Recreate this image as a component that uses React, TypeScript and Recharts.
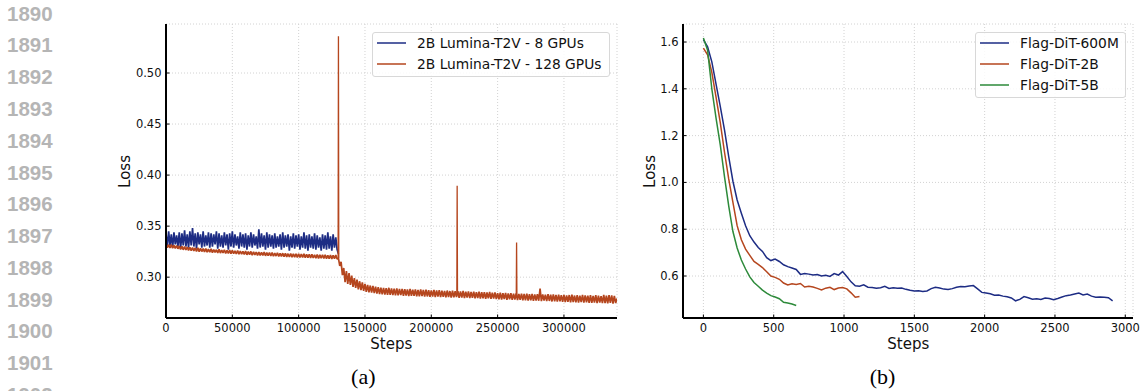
import { LineChart, Line, XAxis, YAxis, CartesianGrid, Legend, Label } from 'recharts'

const FONT = '"DejaVu Sans", sans-serif'
const INK = '#111'
const BLUE = '#1d2c84'
const ORANGE = '#b5461e'
const GREEN = '#2d8a3a'

const lineNumbers = ['1890', '1891', '1892', '1893', '1894', '1895', '1896', '1897', '1898', '1899', '1900', '1901', '1902']
const panelCaptions = ['(a)', '(b)']

// (a) 2B Lumina-T2V, loss logged every 1000 steps
const stepsEveryA = 1000
const gpu8Loss = [
  0.343, 0.330, 0.345, 0.331, 0.342, 0.329, 0.344, 0.332, 0.341, 0.330,
  0.344, 0.328, 0.343, 0.331, 0.346, 0.330, 0.342, 0.329, 0.345, 0.331,
  0.348, 0.330, 0.343, 0.328, 0.344, 0.332, 0.342, 0.329, 0.345, 0.330,
  0.341, 0.331, 0.344, 0.329, 0.343, 0.330, 0.342, 0.332, 0.345, 0.328,
  0.343, 0.330, 0.341, 0.329, 0.344, 0.331, 0.342, 0.327, 0.343, 0.330,
  0.345, 0.329, 0.342, 0.331, 0.340, 0.328, 0.344, 0.330, 0.342, 0.329,
  0.343, 0.327, 0.341, 0.330, 0.344, 0.329, 0.342, 0.331, 0.340, 0.328,
  0.347, 0.329, 0.343, 0.330, 0.341, 0.327, 0.344, 0.329, 0.342, 0.330,
  0.341, 0.328, 0.343, 0.329, 0.340, 0.330, 0.342, 0.327, 0.344, 0.329,
  0.341, 0.330, 0.342, 0.326, 0.340, 0.329, 0.343, 0.328, 0.341, 0.330,
  0.342, 0.327, 0.340, 0.329, 0.344, 0.328, 0.341, 0.326, 0.342, 0.329,
  0.340, 0.328, 0.343, 0.327, 0.341, 0.329, 0.339, 0.326, 0.342, 0.328,
  0.341, 0.327, 0.344, 0.328, 0.340, 0.326, 0.342, 0.329, 0.339, 0.327,
  0.323,
]
const gpu128Loss = [
  0.3322, 0.3290, 0.3318, 0.3287, 0.3320, 0.3284, 0.3313, 0.3282, 0.3310, 0.3278,
  0.3306, 0.3271, 0.3302, 0.3268, 0.3300, 0.3266, 0.3295, 0.3262, 0.3293, 0.3260,
  0.3290, 0.3257, 0.3286, 0.3253, 0.3288, 0.3250, 0.3282, 0.3251, 0.3279, 0.3248,
  0.3280, 0.3245, 0.3275, 0.3244, 0.3277, 0.3240, 0.3271, 0.3242, 0.3269, 0.3238,
  0.3272, 0.3236, 0.3266, 0.3238, 0.3268, 0.3233, 0.3264, 0.3232, 0.3265, 0.3229,
  0.3262, 0.3230, 0.3258, 0.3227, 0.3261, 0.3224, 0.3256, 0.3226, 0.3253, 0.3222,
  0.3255, 0.3219, 0.3250, 0.3221, 0.3252, 0.3216, 0.3248, 0.3218, 0.3246, 0.3214,
  0.3247, 0.3212, 0.3243, 0.3214, 0.3245, 0.3209, 0.3240, 0.3211, 0.3242, 0.3207,
  0.3240, 0.3205, 0.3236, 0.3207, 0.3238, 0.3203, 0.3234, 0.3202, 0.3235, 0.3200,
  0.3233, 0.3199, 0.3230, 0.3197, 0.3232, 0.3195, 0.3228, 0.3196, 0.3229, 0.3193,
  0.3229, 0.3194, 0.3226, 0.3192, 0.3228, 0.3190, 0.3224, 0.3191, 0.3225, 0.3189,
  0.3223, 0.3188, 0.3220, 0.3186, 0.3222, 0.3184, 0.3218, 0.3185, 0.3219, 0.3183,
  0.3218, 0.3182, 0.3215, 0.3181, 0.3217, 0.3179, 0.3214, 0.3180, 0.3216, 0.3178,
  0.3185, 0.3110, 0.3150, 0.3020, 0.3090, 0.2950, 0.3060, 0.2935, 0.3040, 0.2925,
  0.3015, 0.2905, 0.2990, 0.2895, 0.2975, 0.2880, 0.2960, 0.2872, 0.2950, 0.2865,
  0.2935, 0.2855, 0.2925, 0.2852, 0.2918, 0.2848, 0.2915, 0.2843, 0.2908, 0.2840,
  0.2903, 0.2835, 0.2898, 0.2832, 0.2895, 0.2830, 0.2892, 0.2828, 0.2896, 0.2826,
  0.2889, 0.2825, 0.2887, 0.2822, 0.2890, 0.2821, 0.2884, 0.2824, 0.2886, 0.2818,
  0.2882, 0.2820, 0.2880, 0.2815, 0.2884, 0.2818, 0.2878, 0.2816, 0.2881, 0.2813,
  0.2876, 0.2812, 0.2879, 0.2814, 0.2874, 0.2810, 0.2877, 0.2811, 0.2872, 0.2808,
  0.2871, 0.2809, 0.2875, 0.2806, 0.2870, 0.2810, 0.2873, 0.2804, 0.2868, 0.2807,
  0.2866, 0.2803, 0.2869, 0.2805, 0.2864, 0.2800, 0.2867, 0.2802, 0.2862, 0.2804,
  0.2863, 0.2798, 0.2860, 0.2801, 0.2865, 0.2796, 0.2858, 0.2799, 0.2861, 0.2795,
  0.2856, 0.2797, 0.2859, 0.2793, 0.2854, 0.2795, 0.2857, 0.2791, 0.2852, 0.2794,
  0.2853, 0.2789, 0.2850, 0.2792, 0.2855, 0.2787, 0.2848, 0.2790, 0.2851, 0.2786,
  0.2844, 0.2784, 0.2847, 0.2781, 0.2842, 0.2785, 0.2845, 0.2779, 0.2840, 0.2782,
  0.2843, 0.2778, 0.2838, 0.2781, 0.2841, 0.2776, 0.2836, 0.2779, 0.2839, 0.2774,
  0.2835, 0.2772, 0.2838, 0.2770, 0.2833, 0.2774, 0.2836, 0.2768, 0.2831, 0.2771,
  0.2834, 0.2769, 0.2888, 0.2766, 0.2832, 0.2770, 0.2829, 0.2765, 0.2833, 0.2767,
  0.2828, 0.2762, 0.2831, 0.2764, 0.2826, 0.2760, 0.2829, 0.2763, 0.2824, 0.2758,
  0.2827, 0.2756, 0.2822, 0.2759, 0.2825, 0.2754, 0.2828, 0.2757, 0.2820, 0.2753,
  0.2824, 0.2752, 0.2819, 0.2755, 0.2826, 0.2750, 0.2821, 0.2754, 0.2818, 0.2748,
  0.2823, 0.2749, 0.2817, 0.2752, 0.2825, 0.2746, 0.2820, 0.2750, 0.2815, 0.2745,
  0.2826, 0.2747, 0.2818, 0.2744, 0.2823, 0.2749, 0.2821, 0.2742, 0.2816, 0.2746,
  0.2790,
]
// single-step loss spikes of the 128 GPU run
const spikeSteps = [130000, 219500, 264300]
const spikePeaks = [0.536, 0.3895, 0.334]
const spikeBases = [0.3185, 0.2835, 0.2808]
const stepTicksA = [0, 50000, 100000, 150000, 200000, 250000, 300000]
const lossTicksA = [0.3, 0.35, 0.4, 0.45, 0.5]
const legendOrderA = ['2B Lumina-T2V - 8 GPUs', '2B Lumina-T2V - 128 GPUs']

// (b) Flag-DiT, loss logged every 30 steps
const stepsEveryB = 30
const dit600mLoss = [
  1.610, 1.580, 1.515, 1.420, 1.325, 1.225, 1.110, 1.005, 0.925, 0.868,
  0.815, 0.772, 0.745, 0.722, 0.705, 0.678, 0.666, 0.672, 0.662, 0.648,
  0.640, 0.634, 0.628, 0.607, 0.611, 0.608, 0.604, 0.606, 0.600, 0.603,
  0.598, 0.610, 0.604, 0.619, 0.598, 0.575, 0.558, 0.556, 0.562, 0.552,
  0.551, 0.548, 0.550, 0.556, 0.547, 0.550, 0.548, 0.549, 0.543, 0.539,
  0.536, 0.537, 0.534, 0.536, 0.546, 0.552, 0.549, 0.544, 0.542, 0.546,
  0.552, 0.555, 0.554, 0.557, 0.559, 0.545, 0.530, 0.527, 0.524, 0.518,
  0.519, 0.514, 0.511, 0.506, 0.494, 0.500, 0.512, 0.507, 0.501, 0.503,
  0.500, 0.506, 0.504, 0.499, 0.504, 0.510, 0.516, 0.519, 0.523, 0.527,
  0.519, 0.523, 0.514, 0.509, 0.510, 0.509, 0.507, 0.494,
]
const dit2bLoss = [
  1.574, 1.545, 1.470, 1.365, 1.255, 1.130, 1.015, 0.915, 0.815, 0.755,
  0.715, 0.688, 0.662, 0.650, 0.636, 0.618, 0.600, 0.594, 0.586, 0.570,
  0.562, 0.567, 0.564, 0.568, 0.553, 0.556, 0.553, 0.547, 0.540, 0.548,
  0.552, 0.542, 0.549, 0.551, 0.545, 0.528, 0.509, 0.512,
]
const dit5bLoss = [
  1.617, 1.565, 1.400, 1.275, 1.160, 1.025, 0.900, 0.790, 0.720, 0.668,
  0.630, 0.596, 0.572, 0.556, 0.540, 0.527, 0.516, 0.510, 0.503, 0.488,
  0.485, 0.480, 0.474,
]
const stepTicksB = [0, 500, 1000, 1500, 2000, 2500, 3000]
const lossTicksB = [0.6, 0.8, 1.0, 1.2, 1.4, 1.6]
const legendOrderB = ['Flag-DiT-600M', 'Flag-DiT-2B', 'Flag-DiT-5B']

const toSeries = (values: number[], every: number) => values.map((loss, i) => ({ step: i * every, loss }))

const tickStyle = { fontSize: 11.5, fill: INK, fontFamily: FONT }
const axisLine = { stroke: '#000', strokeWidth: 2 }
const tickLine = { stroke: '#000', strokeWidth: 1 }

const title = (text: string, x: number, y: number, vertical = false) => () => (
  <text
    x={x}
    y={y}
    textAnchor="middle"
    fontSize={15}
    fontFamily={FONT}
    fill={INK}
    transform={vertical ? `rotate(-90 ${x} ${y})` : undefined}
  >
    {text}
  </text>
)

function LegendBox({ payload, order }: any) {
  const items = (payload ?? [])
    .filter((p: any) => order.includes(p.value))
    .sort((a: any, b: any) => order.indexOf(a.value) - order.indexOf(b.value))
  return (
    <div
      style={{
        boxSizing: 'border-box',
        width: '100%',
        border: '1px solid #d8d8d8',
        borderRadius: 3,
        background: 'rgba(255,255,255,0.85)',
        padding: '0 0 2px 4px',
        fontFamily: FONT,
        fontSize: 13.8,
        color: INK,
      }}
    >
      {items.map((p: any) => (
        <div key={p.value} style={{ display: 'flex', alignItems: 'center', height: 20.7 }}>
          <svg width={29} height={4} style={{ flex: 'none' }}>
            <line x1={0} y1={2} x2={29} y2={2} stroke={p.color} strokeWidth={1.5} />
          </svg>
          <span style={{ marginLeft: 11, whiteSpace: 'nowrap' }}>{p.value}</span>
        </div>
      ))}
    </div>
  )
}

function LuminaPanel() {
  return (
    <LineChart width={640} height={360} margin={{ top: 24, right: 23, bottom: 0, left: 0 }}>
      <CartesianGrid stroke="#d2d2d2" strokeDasharray="1 2" />
      <XAxis
        dataKey="step"
        type="number"
        domain={[0, 340000]}
        allowDataOverflow
        ticks={stepTicksA}
        interval={0}
        height={42}
        tickSize={-3.5}
        tickMargin={9.5}
        tick={tickStyle}
        axisLine={axisLine}
        tickLine={tickLine}
      >
        <Label content={title('Steps', 391.3, 348.5)} />
      </XAxis>
      <YAxis
        type="number"
        domain={[0.26, 0.548]}
        allowDataOverflow
        ticks={lossTicksA}
        interval={0}
        width={166}
        tickSize={-3.5}
        tickMargin={8}
        tick={tickStyle}
        tickFormatter={(v: number) => v.toFixed(2)}
        axisLine={axisLine}
        tickLine={tickLine}
      >
        <Label content={title('Loss', 130, 171.5, true)} />
      </YAxis>
      <Line
        data={toSeries(gpu8Loss, stepsEveryA)}
        dataKey="loss"
        name="2B Lumina-T2V - 8 GPUs"
        stroke={BLUE}
        strokeWidth={1.7}
        strokeLinejoin="bevel"
        dot={false}
        activeDot={false}
        isAnimationActive={false}
      />
      <Line
        data={toSeries(gpu128Loss, stepsEveryA)}
        dataKey="loss"
        name="2B Lumina-T2V - 128 GPUs"
        stroke={ORANGE}
        strokeWidth={1.7}
        strokeLinejoin="bevel"
        dot={false}
        activeDot={false}
        isAnimationActive={false}
      />
      {spikeSteps.map((s, i) => (
        <Line
          key={s}
          data={[
            { step: s - 250, loss: spikeBases[i] },
            { step: s, loss: spikePeaks[i] },
            { step: s + 250, loss: spikeBases[i] },
          ]}
          dataKey="loss"
          name={`spike-${i}`}
          legendType="none"
          stroke={ORANGE}
          strokeWidth={1.3}
          dot={false}
          activeDot={false}
          isAnimationActive={false}
        />
      ))}
      <Legend
        layout="vertical"
        align="center"
        verticalAlign="middle"
        wrapperStyle={{ left: 372, top: 32, width: 238 }}
        content={<LegendBox order={legendOrderA} />}
      />
    </LineChart>
  )
}

function FlagDiTPanel() {
  return (
    <LineChart width={504} height={360} margin={{ top: 24, right: 11, bottom: 0, left: 0 }}>
      <CartesianGrid stroke="#d2d2d2" strokeDasharray="1 2" />
      <XAxis
        dataKey="step"
        type="number"
        domain={[-145, 3055]}
        allowDataOverflow
        ticks={stepTicksB}
        interval={0}
        height={42}
        tickSize={-3.5}
        tickMargin={9.5}
        tick={tickStyle}
        axisLine={axisLine}
        tickLine={tickLine}
      >
        <Label content={title('Steps', 268.3, 348.5)} />
      </XAxis>
      <YAxis
        type="number"
        domain={[0.4205, 1.677]}
        allowDataOverflow
        ticks={lossTicksB}
        interval={0}
        width={43}
        tickSize={-3.5}
        tickMargin={8}
        tick={tickStyle}
        tickFormatter={(v: number) => v.toFixed(1)}
        axisLine={axisLine}
        tickLine={tickLine}
      >
        <Label content={title('Loss', 15, 171.5, true)} />
      </YAxis>
      <Line
        data={toSeries(dit600mLoss, stepsEveryB)}
        dataKey="loss"
        name="Flag-DiT-600M"
        stroke={BLUE}
        strokeWidth={1.5}
        dot={false}
        activeDot={false}
        isAnimationActive={false}
      />
      <Line
        data={toSeries(dit2bLoss, stepsEveryB)}
        dataKey="loss"
        name="Flag-DiT-2B"
        stroke={ORANGE}
        strokeWidth={1.5}
        dot={false}
        activeDot={false}
        isAnimationActive={false}
      />
      <Line
        data={toSeries(dit5bLoss, stepsEveryB)}
        dataKey="loss"
        name="Flag-DiT-5B"
        stroke={GREEN}
        strokeWidth={1.5}
        dot={false}
        activeDot={false}
        isAnimationActive={false}
      />
      <Legend
        layout="vertical"
        align="center"
        verticalAlign="middle"
        wrapperStyle={{ left: 335, top: 32, width: 151 }}
        content={<LegendBox order={legendOrderB} />}
      />
    </LineChart>
  )
}

export default function App() {
  return (
    <div style={{ position: 'absolute', left: 0, top: 0, width: 1144, height: 391, overflow: 'hidden', background: '#fff' }}>
      <svg width={1144} height={391} style={{ position: 'absolute', left: 0, top: 0 }}>
        {lineNumbers.map((n, i) => (
          <text
            key={n}
            x={7}
            y={20.7 + i * 31.77}
            fontFamily='"Liberation Sans", Arial, sans-serif'
            fontWeight="bold"
            fontSize={20.5}
            fill="#b5b5b5"
          >
            {n}
          </text>
        ))}
        {panelCaptions.map((c, i) => (
          <text
            key={c}
            x={i === 0 ? 363.3 : 882.5}
            y={384}
            textAnchor="middle"
            fontFamily='"Liberation Serif", "Times New Roman", serif'
            fontSize={22}
            fill="#000"
          >
            {c}
          </text>
        ))}
      </svg>
      <div style={{ position: 'absolute', left: 0, top: 0 }}>
        <LuminaPanel />
      </div>
      <div style={{ position: 'absolute', left: 640, top: 0 }}>
        <FlagDiTPanel />
      </div>
    </div>
  )
}
